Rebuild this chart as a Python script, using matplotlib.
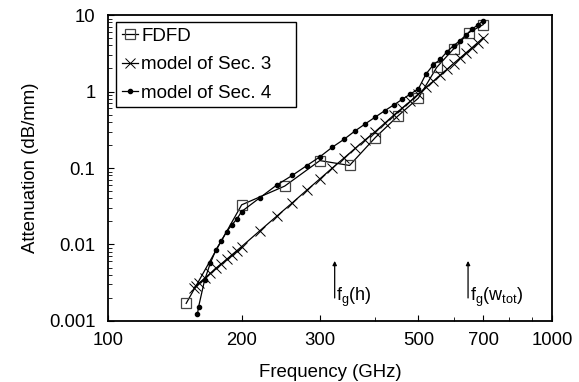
import numpy as np
import matplotlib.pyplot as plt
from matplotlib.ticker import NullFormatter, FixedLocator

plt.rcParams['font.family'] = ['Liberation Sans', 'DejaVu Sans']

# FDFD results
fdfd_f = [150, 200, 250, 300, 350, 400, 450, 500, 550, 600, 650, 700]
fdfd_a = [0.0017, 0.033, 0.058, 0.125, 0.108, 0.25, 0.48, 0.82, 2.07, 3.6, 5.9, 7.5]

# model of Sec. 3
m3_f = [156, 158, 160, 165, 170, 175, 180, 185, 190, 195, 200,
        220, 240, 260, 280, 300, 320, 340, 360, 380, 400, 420, 440,
        460, 480, 500, 520, 540, 560, 580, 600, 620, 640, 660, 680, 700]
m3_a = [0.0027, 0.0029, 0.0031, 0.0036, 0.0042, 0.0049, 0.0056, 0.0064, 0.0073, 0.0083, 0.0094,
        0.0152, 0.0235, 0.035, 0.051, 0.072, 0.10, 0.135, 0.18, 0.235, 0.30, 0.385, 0.49,
        0.61, 0.75, 0.93, 1.13, 1.36, 1.64, 1.95, 2.32, 2.73, 3.2, 3.73, 4.35, 5.05]

# model of Sec. 4
m4_f = [159, 160, 165, 170, 175, 180, 185, 190, 195, 200,
        220, 240, 260, 280, 300, 320, 340, 360, 380, 400, 420, 440,
        460, 480, 500, 520, 540, 560, 580, 600, 620, 640, 660, 680, 700]
m4_a = [0.00122, 0.00154, 0.0034, 0.0057, 0.0085, 0.0112, 0.0147, 0.018, 0.0215, 0.027,
        0.041, 0.06, 0.080, 0.107, 0.14, 0.187, 0.237, 0.305, 0.379, 0.464, 0.561, 0.667,
        0.79, 0.93, 1.08, 1.69, 2.22, 2.63, 3.31, 3.97, 4.61, 5.48, 6.5, 7.4, 8.4]

# cutoff markers
fg_f = [324, 647]
fg_labels = [r'f$_\mathregular{g}$(h)', r'f$_\mathregular{g}$(w$_\mathregular{tot}$)']

fig = plt.figure(figsize=(5.79, 3.82), dpi=100)
ax = fig.add_axes([0.1865, 0.1597, 0.7669, 0.801])

ax.plot(fdfd_f, fdfd_a, color='black', lw=0.9, marker='s', ms=7,
        mfc='none', mec='#444444', mew=0.9, label='FDFD')
ax.plot(m3_f, m3_a, color='black', lw=0.9, marker='x', ms=7,
        mew=0.7, label='model of Sec. 3')
ax.plot(m4_f, m4_a, color='black', lw=0.9, marker='o', ms=3,
        label='model of Sec. 4')

ax.set_xscale('log')
ax.set_yscale('log')
ax.set_xlim(100, 1000)
ax.set_ylim(0.001, 10)

ax.xaxis.set_major_locator(FixedLocator([100, 200, 300, 500, 700, 1000]))
ax.xaxis.set_minor_locator(FixedLocator([400, 600, 800, 900]))
ax.xaxis.set_minor_formatter(NullFormatter())
ax.set_xticklabels(['100', '200', '300', '500', '700', '1000'])
ax.set_yticks([0.001, 0.01, 0.1, 1, 10])
ax.set_yticklabels(['0.001', '0.01', '0.1', '1', '10'])

ax.tick_params(which='both', direction='in', labelsize=13.3, top=False, right=False)
ax.tick_params(which='major', length=4)
ax.tick_params(which='minor', length=3)
ax.tick_params(axis='x', which='both', pad=8)
ax.tick_params(axis='y', which='both', pad=9)
for s in ax.spines.values():
    s.set_linewidth(1.3)

ax.set_xlabel('Frequency (GHz)', fontsize=13.4)
ax.set_ylabel('Attenuation (dB/mm)', fontsize=13.4)
ax.xaxis.set_label_coords(0.5, -0.14)
ax.yaxis.set_label_coords(-0.155, 0.5)

for f, lab in zip(fg_f, fg_labels):
    ax.annotate('', xy=(f, 0.0061), xytext=(f, 0.002),
                arrowprops=dict(arrowstyle='-|>', lw=0.9, color='black',
                                mutation_scale=6, shrinkA=0, shrinkB=0))
    ax.text(f * 1.008, 0.00142, lab, fontsize=13, ha='left', va='bottom')

leg = ax.legend(loc='upper left', bbox_to_anchor=(0.018, 0.706, 0.405, 0.271),
                mode='expand', fontsize=13.5, handlelength=0.9,
                handletextpad=0.15, labelspacing=0.6, borderpad=0.3,
                borderaxespad=0, fancybox=False, framealpha=1,
                edgecolor='black')
leg.get_frame().set_linewidth(1.0)

fig.savefig('out.png', dpi=100)
